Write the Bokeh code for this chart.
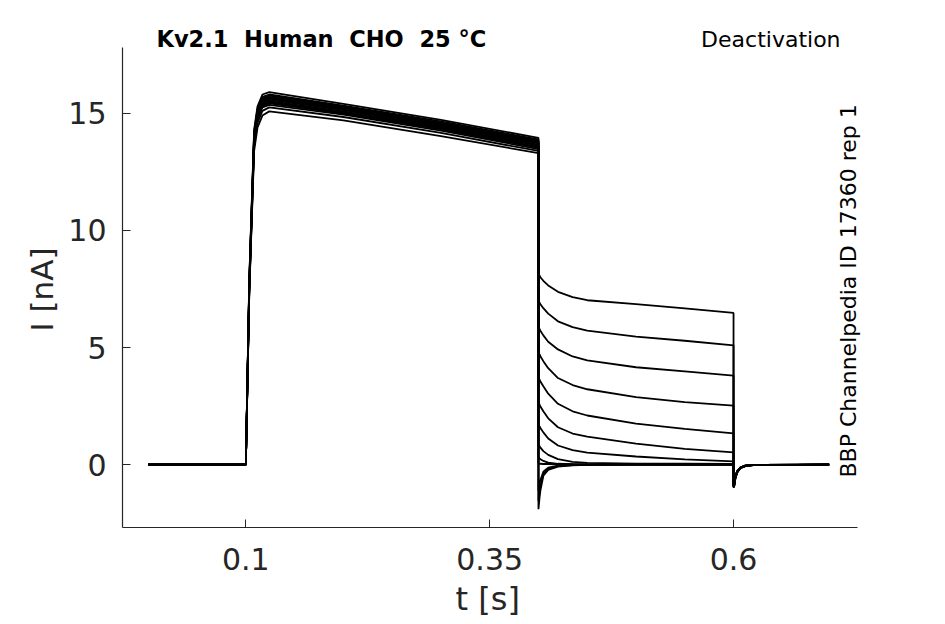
import math
from bokeh.plotting import figure
from bokeh.models import Range1d, FixedTicker, Label, Title
from bokeh.embed import file_html
from bokeh.resources import INLINE

# ---- data (time in s, current in nA) ----
t_act = [0.0, 0.1, 0.1035, 0.1085, 0.112, 0.117, 0.124, 0.2, 0.3, 0.4]
t_tail = [0.4, 0.401, 0.402, 0.405, 0.41, 0.42, 0.435, 0.45, 0.5, 0.55, 0.6]
t_post = [0.6, 0.6005, 0.602, 0.604, 0.607, 0.612, 0.62, 0.698]

act_01 = [0, 0, 7.9, 14.3, 15.3, 15.8, 15.90, 15.40, 14.72, 13.95]
act_02 = [0, 0, 7.8, 14.2, 15.2, 15.7, 15.80, 15.33, 14.65, 13.88]
act_03 = [0, 0, 7.8, 14.1, 15.15, 15.65, 15.75, 15.29, 14.60, 13.83]
act_04 = [0, 0, 7.7, 14.1, 15.1, 15.6, 15.70, 15.25, 14.56, 13.79]
act_05 = [0, 0, 7.7, 14.0, 15.05, 15.55, 15.66, 15.21, 14.52, 13.75]
act_06 = [0, 0, 7.6, 14.0, 15.0, 15.5, 15.62, 15.17, 14.48, 13.71]
act_07 = [0, 0, 7.6, 13.9, 14.95, 15.45, 15.57, 15.13, 14.44, 13.66]
act_08 = [0, 0, 7.5, 13.9, 14.9, 15.4, 15.52, 15.08, 14.40, 13.62]
act_09 = [0, 0, 7.5, 13.8, 14.85, 15.35, 15.47, 15.04, 14.36, 13.57]
act_10 = [0, 0, 7.4, 13.8, 14.8, 15.3, 15.42, 14.99, 14.31, 13.52]
act_11 = [0, 0, 7.4, 13.7, 14.75, 15.25, 15.36, 14.94, 14.26, 13.47]
act_12 = [0, 0, 7.3, 13.6, 14.6, 15.1, 15.25, 14.84, 14.16, 13.39]
act_13 = [0, 0, 7.3, 13.4, 14.4, 14.9, 15.08, 14.70, 14.02, 13.30]

tail_01 = [8.15, 8.08, 8.0, 7.85, 7.65, 7.38, 7.15, 7.02, 6.85, 6.67, 6.48]
tail_02 = [7.0, 6.93, 6.85, 6.68, 6.45, 6.12, 5.87, 5.72, 5.47, 5.29, 5.09]
tail_03 = [5.87, 5.8, 5.72, 5.52, 5.25, 4.92, 4.62, 4.45, 4.16, 3.98, 3.8]
tail_04 = [4.8, 4.72, 4.63, 4.42, 4.12, 3.7, 3.4, 3.22, 2.88, 2.67, 2.52]
tail_05 = [3.73, 3.64, 3.55, 3.35, 3.03, 2.6, 2.28, 2.1, 1.75, 1.53, 1.34]
tail_06 = [2.66, 2.57, 2.48, 2.28, 1.98, 1.6, 1.33, 1.2, 0.9, 0.68, 0.53]
tail_07 = [1.74, 1.65, 1.57, 1.38, 1.12, 0.82, 0.62, 0.52, 0.35, 0.23, 0.14]
tail_08 = [0.88, 0.8, 0.73, 0.58, 0.42, 0.24, 0.12, 0.08, 0.05, 0.04, 0.03]
tail_09 = [0.31, 0.27, 0.23, 0.16, 0.09, 0.04, 0.02, 0.01, 0.01, 0.0, 0.0]
tail_10 = [0.05, 0.04, 0.04, 0.03, 0.03, 0.02, 0.02, 0.01, 0.0, 0.0, 0.0]
tail_11 = [-1.1, -0.85, -0.65, -0.3, -0.13, -0.04, -0.01, 0.0, 0.0, 0.0, 0.0]
tail_12 = [-1.55, -1.2, -0.9, -0.4, -0.18, -0.06, -0.02, -0.01, 0.0, 0.0, 0.0]
tail_13 = [-1.9, -1.45, -1.1, -0.47, -0.22, -0.08, -0.03, -0.01, 0.0, 0.0, 0.0]

post_01 = [-0.95, -0.97, -0.55, -0.32, -0.15, -0.06, -0.02, 0.0]
post_02 = [-0.95, -0.96, -0.55, -0.31, -0.15, -0.06, -0.02, 0.0]
post_03 = [-0.93, -0.95, -0.54, -0.31, -0.14, -0.06, -0.02, 0.0]
post_04 = [-0.92, -0.94, -0.53, -0.30, -0.14, -0.05, -0.02, 0.0]
post_05 = [-0.9, -0.92, -0.52, -0.30, -0.14, -0.05, -0.02, 0.0]
post_06 = [-0.88, -0.9, -0.5, -0.29, -0.13, -0.05, -0.02, 0.0]
post_07 = [-0.86, -0.88, -0.49, -0.28, -0.13, -0.05, -0.01, 0.0]
post_08 = [-0.84, -0.86, -0.48, -0.27, -0.12, -0.05, -0.01, 0.0]
post_09 = [-0.82, -0.84, -0.47, -0.27, -0.12, -0.04, -0.01, 0.0]
post_10 = [-0.8, -0.82, -0.46, -0.26, -0.12, -0.04, -0.01, 0.0]
post_11 = [-0.8, -0.82, -0.46, -0.26, -0.12, -0.04, -0.01, 0.0]
post_12 = [-0.8, -0.82, -0.46, -0.26, -0.12, -0.04, -0.01, 0.0]
post_13 = [-0.8, -0.82, -0.46, -0.26, -0.12, -0.04, -0.01, 0.0]

x_ticks = [0.1, 0.35, 0.6]
x_tick_labels = ["0.1", "0.35", "0.6"]
y_ticks = [0, 5, 10, 15]
y_tick_labels = ["0", "5", "10", "15"]
x_axis_span = (-0.02645, 0.7271)
y_axis_span = (-2.68, 17.82)

title_left = "Kv2.1 \u00a0Human \u00a0CHO \u00a025 °C"
title_right = "Deactivation"
side_note = "BBP Channelpedia ID 17360 rep 1"
x_label = "t [s]"
y_label = "I [nA]"

acts = [act_01, act_02, act_03, act_04, act_05, act_06, act_07, act_08, act_09, act_10, act_11, act_12, act_13]
tails = [tail_01, tail_02, tail_03, tail_04, tail_05, tail_06, tail_07, tail_08, tail_09, tail_10, tail_11, tail_12, tail_13]
posts = [post_01, post_02, post_03, post_04, post_05, post_06, post_07, post_08, post_09, post_10, post_11, post_12, post_13]

# ---- figure: frame reaches the top and right edges; axes limited by bounds ----
W, H = 940, 624
LEFT, BOTTOM = 122, 97
px_per_s = 975.4
px_per_nA = 23.43
fw, fh = W - LEFT, H - BOTTOM
x0 = x_axis_span[0]
y0 = y_axis_span[0]
p = figure(width=W, height=H, output_backend="svg", toolbar_location=None,
           x_range=Range1d(x0, x0 + fw / px_per_s), y_range=Range1d(y0, y0 + fh / px_per_nA),
           min_border_left=LEFT, min_border_right=0,
           min_border_top=0, min_border_bottom=BOTTOM)
p.outline_line_color = None
p.xgrid.visible = False
p.ygrid.visible = False
p.background_fill_color = "white"
p.border_fill_color = "white"

ax_col = "#262626"
for ax in (p.xaxis[0], p.yaxis[0]):
    ax.axis_line_color = ax_col
    ax.axis_line_width = 1.2
    ax.major_tick_line_color = ax_col
    ax.major_tick_line_width = 1
    ax.major_tick_in = 8
    ax.major_tick_out = 0
    ax.minor_tick_line_color = None
    ax.major_label_text_color = ax_col
    ax.major_label_text_font = "DejaVu Sans"
    ax.major_label_text_font_size = "30px"

p.xaxis[0].bounds = x_axis_span
p.yaxis[0].bounds = y_axis_span
p.xaxis[0].ticker = FixedTicker(ticks=x_ticks)
p.xaxis[0].major_label_overrides = dict(zip(x_ticks, x_tick_labels))
p.xaxis[0].major_label_standoff = 20
p.yaxis[0].ticker = FixedTicker(ticks=y_ticks)
p.yaxis[0].major_label_overrides = dict(zip(y_ticks, y_tick_labels))
p.yaxis[0].major_label_standoff = 16

# axis titles placed next to the (bounded) axes
p.add_layout(Title(text=x_label, align="left", offset=333, standoff=10,
                   text_font="DejaVu Sans", text_font_size="32px",
                   text_font_style="normal", text_color=ax_col), "below")
p.add_layout(Title(text=y_label, align="left", offset=196, standoff=12,
                   text_font="DejaVu Sans", text_font_size="31px",
                   text_font_style="normal", text_color=ax_col), "left")

for a, tl, po in zip(acts, tails, posts):
    p.line(t_act + t_tail + t_post, a + tl + po, line_color="black", line_width=1.8)

p.add_layout(Label(x=0.0084, y=18.16, text=title_left, text_font="DejaVu Sans",
                   text_font_size="22.5px", text_font_style="bold", text_color="black",
                   text_align="left", text_baseline="alphabetic"))
p.add_layout(Label(x=0.7097, y=18.16, text=title_right, text_font="DejaVu Sans",
                   text_font_size="22px", text_color="black",
                   text_align="right", text_baseline="alphabetic"))
p.add_layout(Label(x=0.7179, y=-0.546, text=side_note, text_font="DejaVu Sans",
                   text_font_size="22px", text_color="black", angle=math.pi / 2,
                   text_align="left", text_baseline="alphabetic"))

open("out.html", "w").write(file_html(p, INLINE))
